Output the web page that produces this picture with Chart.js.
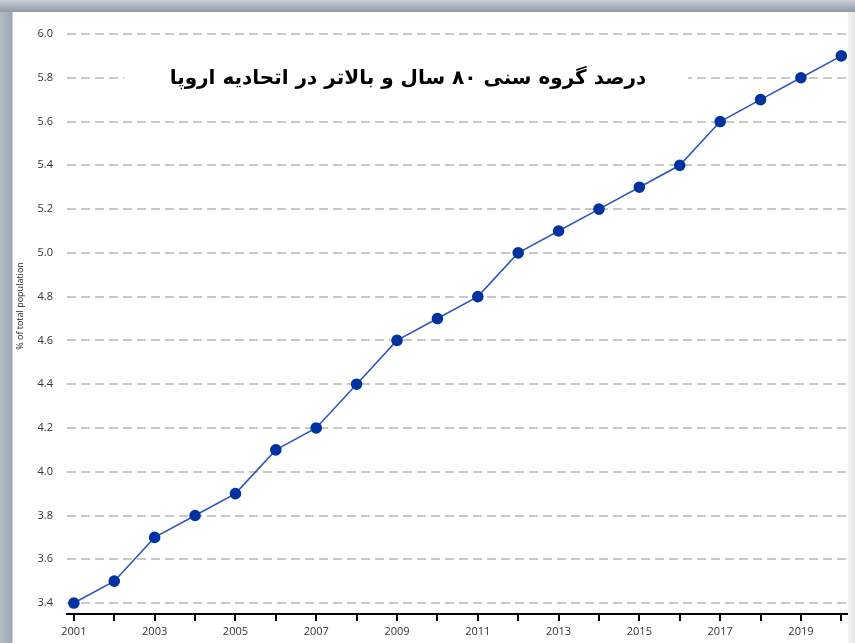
<!DOCTYPE html>
<html>
<head>
<meta charset="utf-8">
<script src="https://cdn.jsdelivr.net/npm/chart.js@4"></script>
<style>
  html, body { margin: 0; padding: 0; }
  body {
    width: 855px; height: 643px; overflow: hidden; position: relative;
    background: linear-gradient(to right, #b4bcc7 0px, #9ea8b5 12px, #f4f4f4 13px);
  }
  #topband {
    position: absolute; left: 0; top: 0; width: 855px; height: 12px; z-index: 2;
    background: linear-gradient(to bottom, #c9ced6, #8f99a7);
  }
  #rightshade {
    position: absolute; left: 848px; top: 12px; width: 7px; height: 631px; z-index: 2;
    background: linear-gradient(to right, #f2f2f2, #e6e6e6);
  }
  #box {
    position: absolute; left: 13px; top: 12px; width: 835px; height: 631px;
    background: #fff; overflow: hidden;
  }
</style>
</head>
<body>
<div id="topband"></div>
<div id="rightshade"></div>
<div id="box"><canvas id="chart" width="843" height="631"></canvas></div>
<script>
const years = [2001, 2002, 2003, 2004, 2005, 2006, 2007, 2008, 2009, 2010,
               2011, 2012, 2013, 2014, 2015, 2016, 2017, 2018, 2019, 2020];
const shareOver80 = [3.4, 3.5, 3.7, 3.8, 3.9, 4.1, 4.2, 4.4, 4.6, 4.7,
                     4.8, 5.0, 5.1, 5.2, 5.3, 5.4, 5.6, 5.7, 5.8, 5.9];
const yTicks = [3.4, 3.6, 3.8, 4.0, 4.2, 4.4, 4.6, 4.8, 5.0, 5.2, 5.4, 5.6, 5.8, 6.0];
const titleText = 'درصد گروه سنی ۸۰ سال و بالاتر در اتحادیه اروپا';
const yTitle = '% of total population';

// title sits on a white patch over the grid lines, axis title drawn by hand
const titlePlugin = {
    id: 'titlePatch',
    afterDraw(chart) {
        const ctx = chart.ctx;
        ctx.save();
        ctx.fillStyle = '#fff';
        ctx.fillRect(111, 44, 564, 48);
        ctx.font = 'bold 20px "DejaVu Sans"';
        ctx.fillStyle = '#000';
        ctx.textAlign = 'center';
        ctx.textBaseline = 'middle';
        ctx.direction = 'rtl';
        ctx.fillText(titleText, 395, 67);
        ctx.restore();

        ctx.save();
        ctx.translate(7, 294);
        ctx.rotate(-Math.PI / 2);
        ctx.font = '9px "Open Sans"';
        ctx.fillStyle = '#222';
        ctx.textAlign = 'center';
        ctx.textBaseline = 'middle';
        ctx.fillText(yTitle, 0, 0);
        ctx.restore();
    }
};

new Chart(document.getElementById('chart').getContext('2d'), {
    type: 'line',
    data: {
        datasets: [{
            data: years.map((y, i) => ({ x: y, y: shareOver80[i] })),
            borderColor: '#2f56b9',
            borderWidth: 1.6,
            pointBackgroundColor: '#00339f',
            pointBorderColor: '#00339f',
            pointRadius: 5,
            fill: false,
            tension: 0
        }]
    },
    options: {
        responsive: false,
        animation: false,
        layout: { padding: { left: 0, right: 0, top: 22, bottom: 0 } },
        plugins: { legend: { display: false }, tooltip: { enabled: false } },
        scales: {
            x: {
                type: 'linear',
                min: 2000.83,
                max: 2020.2,
                afterBuildTicks: axis => { axis.ticks = years.map(v => ({ value: v })); },
                afterFit: axis => { axis.height = 29; },
                border: { display: true, color: '#000', width: 2 },
                grid: { drawOnChartArea: false, drawTicks: true, tickLength: 7, color: '#000', lineWidth: 2 },
                ticks: {
                    autoSkip: false,
                    maxRotation: 0,
                    padding: 4,
                    color: '#333',
                    font: { family: '"Open Sans"', size: 11 },
                    callback: v => (v % 2 === 1 ? String(v) : '')
                }
            },
            y: {
                min: 3.35,
                max: 6.0,
                afterBuildTicks: axis => { axis.ticks = yTicks.map(v => ({ value: v })); },
                afterFit: axis => { axis.width = 54; },
                grid: { drawTicks: false, color: '#c8c8c8', lineWidth: 2 },
                border: { display: false, dash: [9, 5] },
                ticks: {
                    padding: 14,
                    color: '#333',
                    font: { family: '"Open Sans"', size: 11 },
                    callback: v => v.toFixed(1)
                }
            }
        }
    },
    plugins: [titlePlugin]
});
</script>
</body>
</html>
